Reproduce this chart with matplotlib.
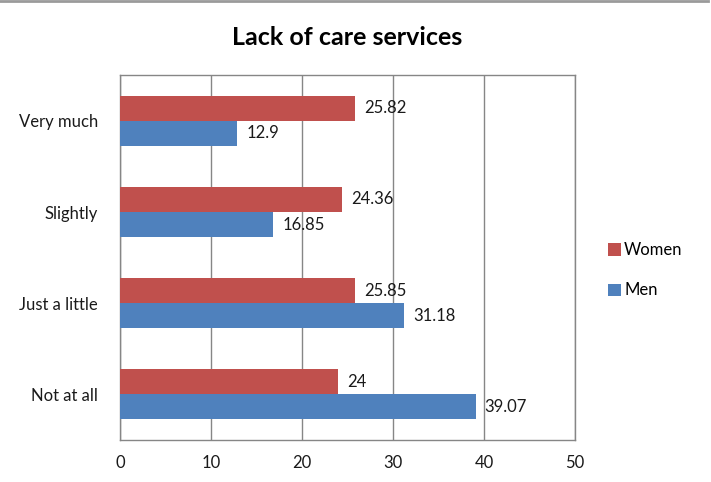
import numpy as np
import matplotlib
matplotlib.use("Agg")
import matplotlib.pyplot as plt
from matplotlib.lines import Line2D

plt.rcParams['font.family'] = ['Lato', 'DejaVu Sans']

categories = ["Very much", "Slightly", "Just a little", "Not at all"]
women = [25.82, 24.36, 25.85, 24]
men = [12.9, 16.85, 31.18, 39.07]
women_labels = ["25.82", "24.36", "25.85", "24"]
men_labels = ["12.9", "16.85", "31.18", "39.07"]

red = "#C0504D"
blue = "#4F81BD"
grid_c = "#868686"

fig = plt.figure(figsize=(7.11, 4.82), dpi=100)
ax = fig.add_axes([0.1688, 0.0871, 0.6399, 0.7569])

y = np.arange(len(categories))
h = 0.275
ax.barh(y - h / 2, women, height=h, color=red, label="Women", zorder=3)
ax.barh(y + h / 2, men, height=h, color=blue, label="Men", zorder=3)

for yi, v, t in zip(y, women, women_labels):
    ax.text(v + 1.0, yi - h / 2, t, va="center", ha="left", fontsize=12, color="#1a1a1a")
for yi, v, t in zip(y, men, men_labels):
    ax.text(v + 1.0, yi + h / 2, t, va="center", ha="left", fontsize=12, color="#1a1a1a")

ax.set_xlim(0, 50)
ax.set_ylim(len(categories) - 0.5, -0.5)
ax.set_xticks(np.arange(0, 51, 10))
ax.set_yticks(y)
ax.set_yticklabels(categories)
ax.tick_params(axis="both", length=0, labelsize=12, colors="#1a1a1a")
ax.tick_params(axis="x", pad=11)
ax.tick_params(axis="y", pad=16)
ax.grid(axis="x", color=grid_c, linewidth=1, zorder=0)
for s in ax.spines.values():
    s.set_color(grid_c)
    s.set_linewidth(1)

ax.set_title("Lack of care services", fontsize=18, fontweight="bold", pad=22)

ax.legend(loc="center left", bbox_to_anchor=(1.04, 0.465), frameon=False,
          fontsize=12, handlelength=0.75, handleheight=0.75, handletextpad=0.2,
          labelspacing=1.45)

fig.add_artist(Line2D([0, 0.996], [0.997, 0.997], transform=fig.transFigure,
                      color="#9a9a9a", linewidth=2))

fig.savefig("out.png", dpi=100)
